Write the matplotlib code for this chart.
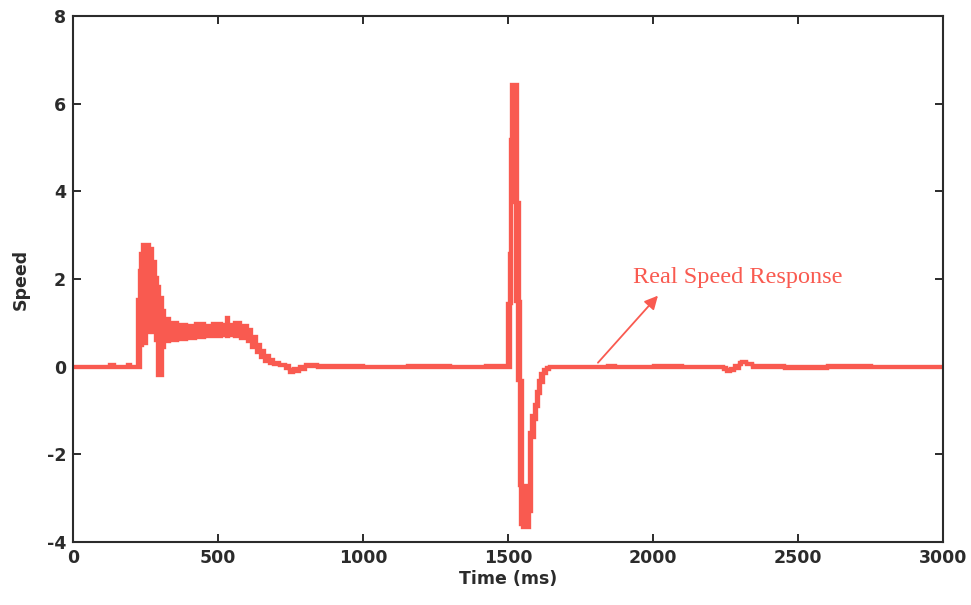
import matplotlib
matplotlib.use("Agg")
import matplotlib.pyplot as plt
import numpy as np

# Speed trace: each row holds the low and high edge of the sampled band
# (the trace chatters rapidly between them), held until the next time mark.
time_ms = [0, 125, 140, 185, 195, 220, 226, 232, 238, 250, 262, 272, 282, 290, 298,
           306, 315, 330, 360, 390, 420, 450, 480, 510, 528, 536, 555, 575, 600,
           615, 630, 645, 660, 675, 690, 710, 730, 745, 760, 780, 800, 820, 840,
           1000, 1150, 1300, 1420, 1460, 1495, 1503, 1507, 1511, 1524, 1531, 1537,
           1542, 1548, 1572, 1580, 1588, 1595, 1602, 1610, 1620, 1630, 1640, 1840,
           1870, 2000, 2100, 2240, 2250, 2265, 2280, 2295, 2305, 2320, 2340, 2450,
           2600, 2750, 2900, 3000]
speed_lo = [0.0, 0.0, 0.0, 0.0, 0.0, 0.0, 0.0, 0.5, 0.55, 0.8, 0.85, 0.8, 0.6, -0.18, -0.18,
            0.45, 0.58, 0.6, 0.62, 0.66, 0.68, 0.7, 0.7, 0.72, 0.7, 0.72, 0.7, 0.66, 0.58,
            0.45, 0.33, 0.23, 0.14, 0.09, 0.06, 0.03, -0.03, -0.12, -0.1, -0.05, 0.02, 0.02, 0.0,
            -0.01, 0.0, 0.0, 0.0, 0.0, 0.0, 0.0, 1.45, 3.75, 1.5, -0.3, -2.7,
            -3.6, -3.66, -3.3, -1.6, -1.2, -0.9, -0.6, -0.35, -0.15, -0.06, 0.0, 0.0,
            -0.01, 0.0, -0.01, -0.05, -0.1, -0.08, -0.02, 0.05, 0.1, 0.05, 0.0, -0.02,
            0.0, -0.01, 0.0, 0.0]
speed_hi = [0.02, 0.05, 0.02, 0.05, 0.02, 1.55, 2.2, 2.6, 2.8, 2.8, 2.7, 2.4, 2.05, 1.85, 1.6,
            1.3, 1.12, 1.02, 0.98, 0.96, 1.0, 0.96, 1.0, 0.98, 1.14, 0.98, 1.02, 0.96, 0.86,
            0.7, 0.52, 0.38, 0.26, 0.17, 0.11, 0.07, 0.03, -0.05, -0.03, 0.01, 0.07, 0.05, 0.03,
            0.02, 0.03, 0.02, 0.04, 0.03, 1.45, 2.6, 5.2, 6.45, 6.45, 3.75, 1.5,
            -0.3, -2.7, -1.5, -1.1, -0.85, -0.55, -0.3, -0.15, -0.06, 0.0, 0.02, 0.03,
            0.02, 0.03, 0.02, 0.0, -0.05, -0.02, 0.04, 0.1, 0.14, 0.08, 0.03, 0.02,
            0.03, 0.02, 0.02, 0.02]

x_ticks = [0, 500, 1000, 1500, 2000, 2500, 3000]
y_ticks = [-4, -2, 0, 2, 4, 6, 8]

trace_color = "#f95a50"
ink = "#2b2b2b"

plt.rcParams["axes.unicode_minus"] = False

fig = plt.figure(figsize=(9.71, 6.05), dpi=100)
ax = fig.add_axes([0.0752, 0.1041, 0.896, 0.8695])

t = np.asarray(time_ms, dtype=float)
lo = np.asarray(speed_lo)
hi = np.asarray(speed_hi)

# Solid band between the low and high edges for each hold interval
ax.bar(t[:-1], (hi - lo)[:-1], bottom=lo[:-1], width=np.diff(t), align="edge",
       color=trace_color, linewidth=0, antialiased=False)
ax.plot(t, lo, drawstyle="steps-post", color=trace_color, lw=2.4,
        solid_joinstyle="miter")
ax.plot(t, hi, drawstyle="steps-post", color=trace_color, lw=2.4,
        solid_joinstyle="miter")

ax.set_xlim(0, 3000)
ax.set_ylim(-4, 8)
ax.set_xticks(x_ticks)
ax.set_yticks(y_ticks)
ax.tick_params(direction="in", length=6, width=1.4, colors=ink,
               top=True, right=True, labelsize=12.5, pad=5)
for lab in ax.get_xticklabels() + ax.get_yticklabels():
    lab.set_fontweight("bold")
for sp in ax.spines.values():
    sp.set_linewidth(1.5)
    sp.set_color(ink)

ax.set_xlabel("Time (ms)", fontsize=12.5, fontweight="bold", color=ink, labelpad=2)
ax.set_ylabel("Speed", fontsize=12.5, fontweight="bold", color=ink, labelpad=12)

ax.annotate("", xy=(2017, 1.62), xytext=(1810, 0.09),
            arrowprops=dict(arrowstyle="-|>", color=trace_color, lw=1.3,
                            mutation_scale=20, shrinkA=0, shrinkB=0))
ax.text(1931, 2.03, "Real Speed Response", color=trace_color, fontsize=17.5,
        family="Liberation Serif", va="center", ha="left")

fig.savefig("out.png", dpi=100)
